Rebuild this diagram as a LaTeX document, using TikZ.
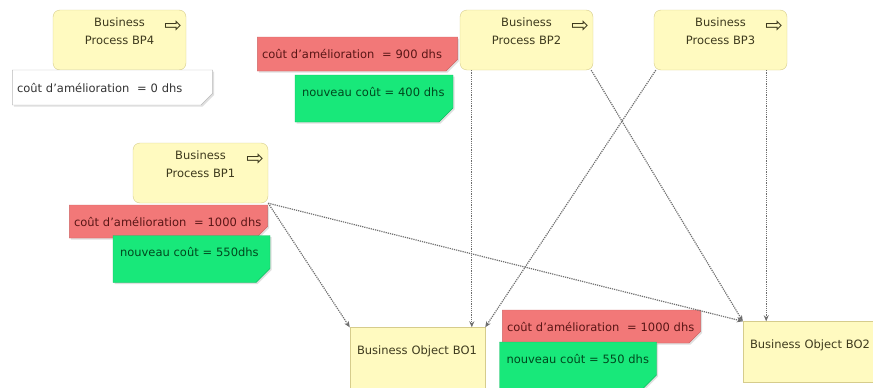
\documentclass[tikz,border=0pt]{standalone}
\usepackage{fontspec}
\setmainfont{DejaVu Sans}
\usetikzlibrary{positioning,arrows.meta,shapes.misc,shadows}
\definecolor{procfill}{RGB}{255,250,192}
\definecolor{procdraw}{RGB}{214,204,140}
\definecolor{textdark}{RGB}{62,58,30}
\definecolor{notered}{RGB}{242,120,120}
\definecolor{redtext}{RGB}{90,22,22}
\definecolor{notegreen}{RGB}{24,232,122}
\definecolor{greentext}{RGB}{0,72,30}
\definecolor{linkgray}{RGB}{110,110,110}
\tikzset{
    process/.style = {
        draw = procdraw,
        fill = procfill,
        rounded corners = 7pt,
        minimum width = 133pt,
        minimum height = 60pt,
        inner sep = 0pt,
        },
    process text/.style = {
        align = center,
        inner sep = 0pt,
        text = textdark,
        font = \fontsize{11.5}{18}\selectfont,
        },
    process icon/.style = {
        inner sep = 0pt,
        text = textdark,
        font = \fontsize{21}{21}\selectfont,
        },
    object/.style = {
        draw = procdraw,
        fill = procfill,
        minimum width = 135pt,
        minimum height = 61pt,
        inner xsep = 7pt,
        inner ysep = 0pt,
        text width = 121pt,
        text height = 27pt,
        text depth = 34pt,
        align = left,
        text = textdark,
        font = \fontsize{11.5}{14}\selectfont,
        },
    note/.style = {
        chamfered rectangle,
        chamfered rectangle corners = south east,
        chamfered rectangle xsep = 7pt,
        chamfered rectangle ysep = 7pt,
        inner xsep = 0pt,
        inner ysep = 0pt,
        align = left,
        font = \fontsize{11.5}{14}\selectfont,
        drop shadow = {shadow xshift=1.5pt, shadow yshift=-1.5pt, opacity=0.25},
        },
    zero cost/.style = {
        note,
        fill = white,
        draw = gray!55,
        text = black!80,
        },
    cost/.style = {
        note,
        fill = notered,
        draw = notered!85!black,
        text = redtext,
        },
    new cost/.style = {
        note,
        fill = notegreen,
        draw = notegreen!80!black,
        text = greentext,
        text height = 14pt,
        text depth = 19pt,
        },
    link/.style = {
        draw = linkgray,
        densely dotted,
        line width = 1.2pt,
        -{Stealth[length=6pt,width=5pt]},
        },
}
\begin{document}
\begin{tikzpicture}[x=1pt,y=-1pt]
    \useasboundingbox (0,0) rectangle (873,388);

    % business processes
    \node[process] (bp4) at (119.5,40) {};
    \node[process] (bp2) at (526.5,40) {};
    \node[process] (bp3) at (720.5,40) {};
    \node[process, minimum width=135pt] (bp1) at (200.5,173) {};
    \foreach \p/\n in {bp4/BP4, bp2/BP2, bp3/BP3, bp1/BP1} {
        \node[process text, below=8pt of \p.north] (\p text) {Business\\Process \n};
        \node[process icon] (\p icon) at ([xshift=-13pt,yshift=-17pt]\p.north east) {⇨};
    }

    % business objects
    \node[object] (bo1) at (417.5,358) {Business Object BO1};
    \node[object] (bo2) at (810.5,352) {Business Object BO2};

    % costs
    \node[zero cost, text width=191pt, minimum height=35pt] (bp4 cost) at (112.5,87.5) {coût d'amélioration\ \ = 0 dhs};
    \node[cost, text width=191pt, minimum height=34pt] (bp2 cost) at (357.5,54) {coût d'amélioration\ \ = 900 dhs};
    \node[new cost, text width=144pt, minimum height=43pt] (bp2 new) at (374,98.5) {nouveau coût = 400 dhs};
    \node[cost, text width=189pt, minimum height=33pt] (bp1 cost) at (168.5,221.5) {coût d'amélioration\ \ = 1000 dhs};
    \node[new cost, text width=143pt, minimum height=42pt] (bp1 new) at (191.5,259) {nouveau coût = 550dhs};
    \node[cost, text width=189pt, minimum height=33pt] (bo1 cost) at (601.5,326.5) {coût d'amélioration\ \ = 1000 dhs};
    \node[new cost, text width=143pt, minimum height=45pt] (bo1 new) at (578,365.5) {nouveau coût = 550 dhs};

    % links
    \draw[link] (bp1.south east) -- (bo1.north west);
    \draw[link] (bp1.south east) -- (bo2.north west);
    \draw[link] ([xshift=12pt]bp2.south west) -- ([xshift=12pt]bp2.south west |- bo1.north);
    \draw[link] ([xshift=-2pt]bp2.south east) -- (bo2.north west);
    \draw[link] ([xshift=2pt]bp3.south west) -- (bo1.north east);
    \draw[link] ([xshift=-21pt]bp3.south east) -- ([xshift=-21pt]bp3.south east |- bo2.north);
\end{tikzpicture}
\end{document}
